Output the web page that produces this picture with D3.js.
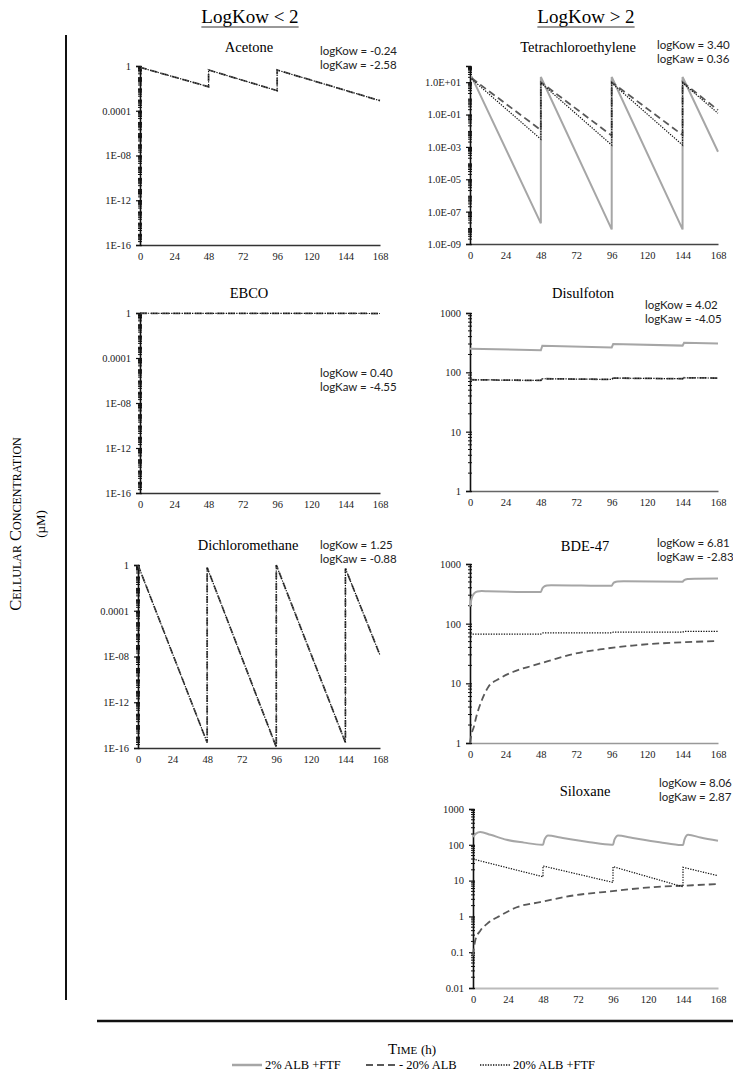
<!DOCTYPE html>
<html>
<head>
<meta charset="utf-8">
<script src="https://cdn.jsdelivr.net/npm/d3@7"></script>
<style>
  body { margin: 0; background: #fff; }
  svg { display: block; }
</style>
</head>
<body>
<div id="chart"></div>
<script>
// time axis (h)
const HOURS = [0, 24, 48, 72, 96, 120, 144, 168];

// y tick values + labels as printed
const LOW_TICKS = [1, 1e-4, 1e-8, 1e-12, 1e-16];
const LOW_LABELS = ["1", "0.0001", "1E-08", "1E-12", "1E-16"];
const TETRA_TICKS = [1e1, 1e-1, 1e-3, 1e-5, 1e-7, 1e-9];
const TETRA_LABELS = ["1.0E+01", "1.0E-01", "1.0E-03", "1.0E-05", "1.0E-07", "1.0E-09"];
const MID_TICKS = [1, 10, 100, 1000];
const MID_LABELS = ["1", "10", "100", "1000"];
const SILOX_TICKS = [0.01, 0.1, 1, 10, 100, 1000];
const SILOX_LABELS = ["0.01", "0.1", "1", "10", "100", "1000"];

// [hour, µM]
const acetone = [[0, 0.76], [48, 0.014], [48, 0.44], [96, 0.0063], [96, 0.44], [168, 0.0008]];
const ebco = [[0, 0.95], [48, 0.92], [96, 0.92], [144, 0.92], [168, 0.9]];
const dichloromethane = [[0, 1], [48, 3e-16], [48, 0.6], [96, 1.2e-16], [96, 1], [144, 3e-16], [144, 0.5], [168, 1.3e-8]];

const tetraSolid = [[1, 23], [48, 1.9e-8], [48, 21], [96, 8e-9], [96, 21], [144, 8e-9], [144, 21], [168, 5e-4]];
const tetraDash = [[1, 18], [48, 0.011], [48, 10], [96, 0.005], [96, 10], [144, 0.0054], [144, 10], [168, 0.19]];
const tetraDot = [[1, 16], [48, 0.003], [48, 9], [96, 0.0013], [96, 9], [144, 0.0013], [144, 9], [168, 0.12]];

const disulSolid = [[0, 250], [48, 235], [49, 280], [96, 262], [97, 300], [144, 282], [145, 315], [168, 305]];
const disulDash = [[0, 75], [48, 73], [49, 78], [96, 76], [97, 80], [144, 78], [145, 81], [168, 80]];
const disulDot = [[0, 75], [48, 73], [49, 78], [96, 76], [97, 80], [144, 78], [145, 81], [168, 80]];

const bdeSolid = [[0, 195], [1, 260], [2, 300], [3, 325], [5, 345], [8, 352], [12, 350], [48, 340], [49, 390], [50, 415],
  [52, 435], [55, 442], [96, 432], [97, 475], [98, 495], [100, 508], [104, 512], [144, 505], [145, 535], [146, 550],
  [148, 560], [152, 568], [168, 570]];
const bdeDash = [[0, 1], [1, 1.4], [2.7, 1.9], [4, 2.6], [8, 5.2], [12.4, 8.7], [20, 12], [29, 15.5], [43, 20], [54, 24],
  [70, 31], [88, 37], [110, 43], [146, 49], [168, 51]];
const bdeDot = [[0, 67], [48, 67], [49, 70], [96, 70], [97, 72], [144, 72], [145, 74], [168, 74]];

const siloxSolid = [[0, 165], [2, 205], [5, 228], [12, 190], [23, 138], [35, 115], [47, 100], [48, 100], [49, 140],
  [51.5, 183], [60, 160], [69, 138], [80, 118], [95, 100], [96, 100], [97, 140], [99.5, 183], [108, 160], [117, 138],
  [128, 118], [143, 98], [144, 98], [145, 140], [147.5, 190], [156, 160], [168, 130]];
const siloxDash = [[0, 0.08], [1.5, 0.21], [5, 0.4], [9.6, 0.62], [18.7, 1.05], [30, 1.8], [46, 2.5], [69, 3.85],
  [94, 5], [124, 6.6], [144, 7.2], [168, 8]];
const siloxDot = [[0, 40], [48, 12.8], [48, 25.6], [96, 8.9], [96, 24.5], [144, 6.7], [144, 23.5], [168, 13.7]];

const LEGEND = [
  { kind: "solid", label: "2% ALB +FTF" },
  { kind: "dash", label: "- 20% ALB" },
  { kind: "dot", label: "20% ALB +FTF" }
];

// line styles
const STYLE = {
  solid: { stroke: "#a6a6a6", width: 2, dash: null },
  dash: { stroke: "#595959", width: 1.8, dash: "7,4" },
  dot: { stroke: "#111", width: 1.2, dash: "1.3,1.3" }
};

const panels = [
  { title: "Acetone", kow: "-0.24", kaw: "-2.58", x: [140, 380], y: [66, 245], domain: [1e-16, 1],
    ticks: LOW_TICKS, labels: LOW_LABELS, titleX: 249, titleY: 52, annX: 320, annY: 55, axisColor: "#333",
    series: [{ data: acetone, kind: "dash" }, { data: acetone, kind: "dot" }] },
  { title: "EBCO", kow: "0.40", kaw: "-4.55", x: [140, 380], y: [313, 493], domain: [1e-16, 1],
    ticks: LOW_TICKS, labels: LOW_LABELS, titleX: 249, titleY: 298, annX: 320, annY: 377, axisColor: "#333",
    series: [{ data: ebco, kind: "dash" }, { data: ebco, kind: "dot" }] },
  { title: "Dichloromethane", kow: "1.25", kaw: "-0.88", x: [138, 380], y: [565, 748], domain: [1e-16, 1],
    ticks: LOW_TICKS, labels: LOW_LABELS, titleX: 248, titleY: 550, annX: 320, annY: 549, axisColor: "#333",
    series: [{ data: dichloromethane, kind: "dash" }, { data: dichloromethane, kind: "dot" }] },
  { title: "Tetrachloroethylene", kow: "3.40", kaw: "0.36", x: [470, 718], y: [66, 244], domain: [1e-9, 1e2],
    ticks: TETRA_TICKS, labels: TETRA_LABELS, titleX: 578, titleY: 52, annX: 657, annY: 49, axisColor: "#444",
    series: [{ data: tetraSolid, kind: "solid" }, { data: tetraDash, kind: "dash" }, { data: tetraDot, kind: "dot" }] },
  { title: "Disulfoton", kow: "4.02", kaw: "-4.05", x: [470, 718], y: [313, 491], domain: [1, 1000],
    ticks: MID_TICKS, labels: MID_LABELS, titleX: 583, titleY: 298, annX: 645, annY: 309, axisColor: "#666",
    series: [{ data: disulSolid, kind: "solid" }, { data: disulDash, kind: "dash" }, { data: disulDot, kind: "dot" }] },
  { title: "BDE-47", kow: "6.81", kaw: "-2.83", x: [470, 718], y: [564, 743], domain: [1, 1000],
    ticks: MID_TICKS, labels: MID_LABELS, titleX: 585, titleY: 551, annX: 657, annY: 547, axisColor: "#999",
    series: [{ data: bdeSolid, kind: "solid", smooth: true }, { data: bdeDash, kind: "dash", smooth: true },
      { data: bdeDot, kind: "dot" }] },
  { title: "Siloxane", kow: "8.06", kaw: "2.87", x: [473, 718], y: [809, 988], domain: [0.01, 1000],
    ticks: SILOX_TICKS, labels: SILOX_LABELS, titleX: 585, titleY: 796, annX: 659, annY: 787, axisColor: "#bbb",
    series: [{ data: siloxSolid, kind: "solid", smooth: true }, { data: siloxDash, kind: "dash", smooth: true },
      { data: siloxDot, kind: "dot" }] }
];

const width = 733, height = 1077;
const serif = '"Liberation Serif", "Times New Roman", serif';
const sans = 'Lato, "Open Sans", sans-serif';

const svg = d3.select("#chart").append("svg")
  .attr("width", width)
  .attr("height", height);

// column headers
[{ text: "LogKow < 2", x: 250 }, { text: "LogKow > 2", x: 586 }].forEach(h => {
  const t = svg.append("text")
    .attr("x", h.x).attr("y", 23)
    .attr("text-anchor", "middle")
    .style("font-family", serif).style("font-size", "19px")
    .text(h.text);
  const w = t.node().getComputedTextLength();
  svg.append("line")
    .attr("x1", h.x - w / 2).attr("x2", h.x + w / 2)
    .attr("y1", 27).attr("y2", 27)
    .attr("stroke", "#333").attr("stroke-width", 1);
});

// frame lines
svg.append("line").attr("x1", 66).attr("x2", 66).attr("y1", 35).attr("y2", 1000)
  .attr("stroke", "#111").attr("stroke-width", 2);
svg.append("line").attr("x1", 97).attr("x2", width).attr("y1", 1021).attr("y2", 1021)
  .attr("stroke", "#111").attr("stroke-width", 2.5);

// y title
const yTitle = svg.append("g").attr("transform", "translate(21,524) rotate(-90)");
yTitle.append("text").attr("text-anchor", "middle")
  .style("font-family", serif).style("font-size", "16.5px").style("font-variant", "small-caps")
  .text("Cellular Concentration");
yTitle.append("text").attr("text-anchor", "middle").attr("y", 24)
  .style("font-family", serif).style("font-size", "13px")
  .text("(µM)");

// x title
const xTitle = svg.append("text").attr("x", 412).attr("y", 1054).attr("text-anchor", "middle")
  .style("font-family", serif).style("font-size", "15px");
xTitle.append("tspan").style("font-variant", "small-caps").text("Time ");
xTitle.append("tspan").style("font-size", "13px").text("(h)");

panels.forEach(drawPanel);

function drawPanel(p) {
  const g = svg.append("g");
  const x = d3.scaleLinear().domain([0, 168]).range(p.x);
  const y = d3.scaleLog().domain(p.domain).range([p.y[1], p.y[0]]);

  g.append("text").attr("x", p.titleX).attr("y", p.titleY).attr("text-anchor", "middle")
    .style("font-family", serif).style("font-size", "14.5px").text(p.title);

  [["logKow = ", p.kow], ["logKaw = ", p.kaw]].forEach((a, i) => {
    g.append("text").attr("x", p.annX).attr("y", p.annY + i * 13.5)
      .style("font-family", sans).style("font-size", "11.5px").style("fill", "#222")
      .text(a[0] + a[1]);
  });

  // x axis
  const xa = g.append("g").attr("transform", `translate(0,${p.y[1]})`)
    .call(d3.axisBottom(x).tickValues(HOURS).tickSize(0).tickPadding(8).tickFormat(d3.format("d")));
  xa.select(".domain").attr("stroke", p.axisColor).attr("stroke-width", p.axisColor === "#bbb" ? 2 : 1.3);

  // minor ticks (log) like excel
  const minors = [];
  const lo = Math.round(Math.log10(p.domain[0])), hi = Math.round(Math.log10(p.domain[1]));
  for (let e = lo; e < hi; e++) {
    for (let k = 2; k <= 9; k++) minors.push(k * Math.pow(10, e));
  }
  g.append("g").selectAll("line").data(minors).join("line")
    .attr("x1", p.x[0] - 2).attr("x2", p.x[0] + 2)
    .attr("y1", d => y(d)).attr("y2", d => y(d))
    .attr("stroke", "#111").attr("stroke-width", 1);

  // y axis
  const ya = g.append("g").attr("transform", `translate(${p.x[0]},0)`)
    .call(d3.axisLeft(y).tickValues(p.ticks).tickSize(4).tickPadding(5)
      .tickFormat((d, i) => p.labels[i]));
  ya.select(".domain").attr("stroke", "#111").attr("stroke-width", 1.6);
  ya.selectAll(".tick line").attr("stroke", "#111").attr("stroke-width", 1.2)
    .attr("x1", 2);

  g.selectAll(".tick text")
    .style("font-family", serif).style("font-size", "10.5px").style("fill", "#222");

  // series
  p.series.forEach(s => {
    const st = STYLE[s.kind];
    const line = d3.line()
      .x(d => x(d[0]))
      .y(d => y(d[1]))
      .curve(s.smooth ? d3.curveMonotoneX : d3.curveLinear);
    g.append("path")
      .datum(s.data)
      .attr("d", line)
      .attr("fill", "none")
      .attr("stroke", st.stroke)
      .attr("stroke-width", st.width)
      .attr("stroke-dasharray", st.dash);
  });
}

// legend
const legendX = [232, 366, 480];
const lg = svg.append("g").attr("transform", "translate(0,1069)");
LEGEND.forEach((l, i) => {
  const st = STYLE[l.kind];
  lg.append("line")
    .attr("x1", legendX[i]).attr("x2", legendX[i] + 30)
    .attr("y1", -4).attr("y2", -4)
    .attr("stroke", st.stroke)
    .attr("stroke-width", l.kind === "solid" ? 2.5 : st.width + 0.4)
    .attr("stroke-dasharray", st.dash);
  lg.append("text")
    .attr("x", legendX[i] + 33).attr("y", 0)
    .style("font-family", serif).style("font-size", "12.5px")
    .text(l.label);
});
</script>
</body>
</html>
